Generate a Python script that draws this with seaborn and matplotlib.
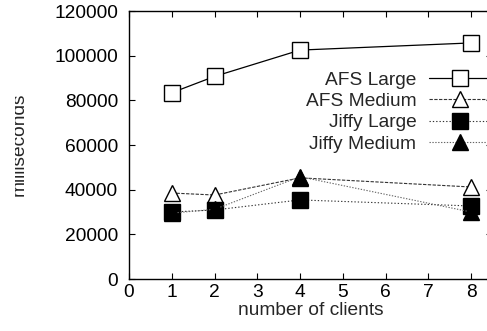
import matplotlib
matplotlib.use("Agg")
import matplotlib.pyplot as plt
from matplotlib.transforms import Bbox
import seaborn as sns
import pandas as pd

clients = [1, 2, 4, 8]
afs_large = [83400, 90700, 102500, 105700]
afs_medium = [38500, 37600, 45300, 41200]
jiffy_large = [30000, 30900, 35400, 32700]
jiffy_medium = [29500, 31200, 45800, 30000]
series_names = ["AFS Large", "AFS Medium", "Jiffy Large", "Jiffy Medium"]
x_ticks = [0, 1, 2, 3, 4, 5, 6, 7, 8]
y_ticks = [0, 20000, 40000, 60000, 80000, 100000, 120000]

sns.set_style("ticks")
plt.rcParams['font.family'] = ['Liberation Sans', 'DejaVu Sans']
FS = 13.8

fig = plt.figure(figsize=(4.87, 3.31), dpi=100)
W, H = 487, 331
left, right, top, bottom = 129, 492, 11, 279
ax = fig.add_axes([left / W, 1 - bottom / H, (right - left) / W, (bottom - top) / H])

values = [afs_large, afs_medium, jiffy_large, jiffy_medium]
styles = [
    dict(marker='s', mfc='white', ls='-', color='black', lw=0.9),
    dict(marker='^', mfc='white', ls=(0, (3, 1.3)), color='#333333', lw=0.8),
    dict(marker='s', mfc='black', ls=(0, (1.2, 1.8)), color='#333333', lw=0.8),
    dict(marker='^', mfc='black', ls=(0, (1.2, 1.4)), color='#666666', lw=0.8),
]
for name, vals, st in zip(series_names, values, styles):
    df = pd.DataFrame({"clients": clients, "ms": vals})
    sns.lineplot(data=df, x="clients", y="ms", ax=ax, marker=st['marker'],
                 markersize=12, markerfacecolor=st['mfc'], markeredgecolor='black',
                 markeredgewidth=1.0, linestyle=st['ls'], color=st['color'],
                 linewidth=st['lw'], label=name)

ax.set_xlim(0, (right - left) / 42.75)
ax.set_ylim(0, 120000)
ax.set_xticks(x_ticks)
ax.set_yticks(y_ticks)
ax.tick_params(direction='in', length=4, width=0.8, labelsize=FS, top=True, right=True, colors='black')
ax.tick_params(axis='y', pad=8)
ax.tick_params(axis='x', pad=3.5)
ax.set_xlabel("number of clients", fontsize=FS, labelpad=1)
ax.set_ylabel("")
for sp in ax.spines.values():
    sp.set_linewidth(1.0)
    sp.set_color('black')

yl = fig.text(24 / W, 1 - 144 / H, "milliseconds", rotation=90, rotation_mode='anchor',
              ha='center', va='baseline', fontsize=FS)
yl.set_clip_box(Bbox.from_extents(15, 0, W, H))
yl.set_clip_on(True)

h, l = ax.get_legend_handles_labels()
leg = ax.legend(h, l, loc='upper right', bbox_to_anchor=((492 - left) / (right - left), 1 - (71.5 - top) / (bottom - top)),
                frameon=False, markerfirst=False, handlelength=3.3, labelspacing=0.2,
                fontsize=FS, numpoints=1, handletextpad=0.65, borderaxespad=0, borderpad=0)

fig.savefig("out.png", dpi=100)
